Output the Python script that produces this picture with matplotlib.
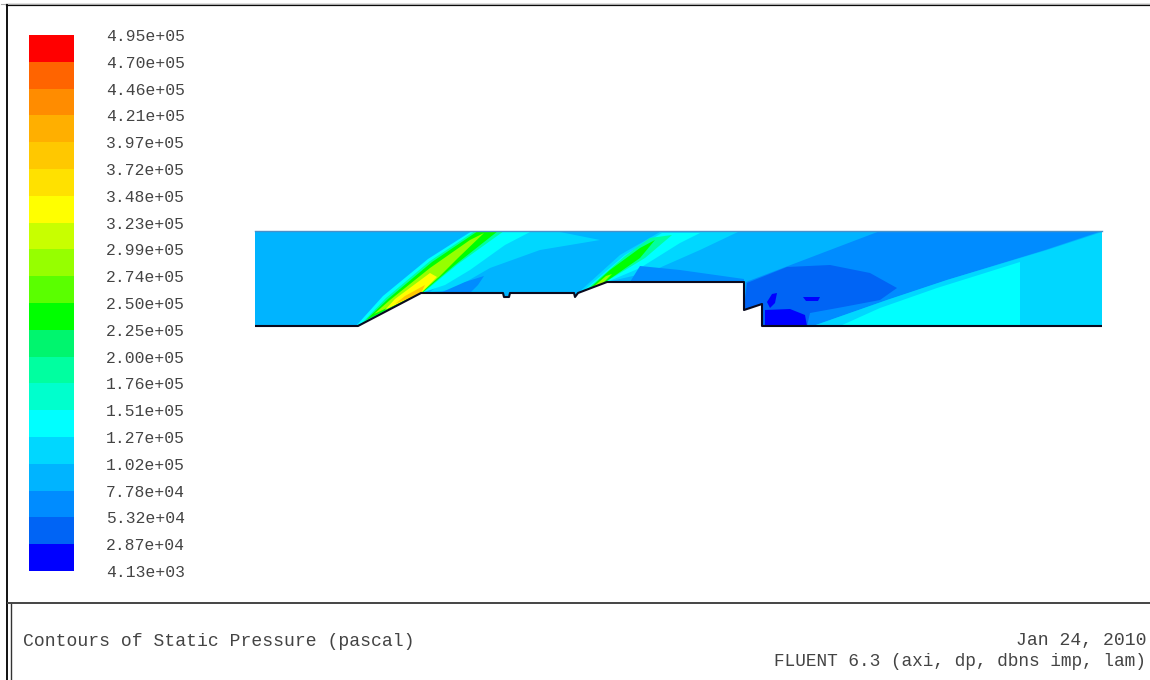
import matplotlib
matplotlib.use("Agg")
import matplotlib.pyplot as plt
import numpy as np
from matplotlib.colors import ListedColormap, BoundaryNorm

levels = [4.13e3, 2.87e4, 5.32e4, 7.78e4, 1.02e5, 1.27e5, 1.51e5, 1.76e5, 2.00e5, 2.25e5, 2.50e5,
          2.74e5, 2.99e5, 3.23e5, 3.48e5, 3.72e5, 3.97e5, 4.21e5, 4.46e5, 4.70e5, 4.95e5]
band_colors = ["#0000ff", "#0064f5", "#008cff", "#00b4ff", "#00d7ff", "#00ffff", "#00ffcd", "#00ffa0",
               "#00f56e", "#00ff00", "#5aff00", "#96ff00", "#c8ff00", "#ffff00", "#ffe100", "#ffc800",
               "#ffaf00", "#ff8c00", "#ff6400", "#ff0000"]

# geometry and pressure patches, in image pixels
wall_x = [255, 358, 421, 503, 504, 509, 510, 574, 575, 578, 607, 744, 744, 762, 762, 1102]
wall_y = [326, 326, 293, 293, 297, 297, 293, 293, 297, 293, 282, 282, 310, 304, 326, 326]
domain_x = [255, 1102, 1102]
domain_y = [231, 231, 326]
base_p = 9.0e4

patches = [
    # right half
    (6.5e4, [(746, 282), (880, 231), (1102, 231), (1045, 250), (947, 280), (887, 300), (813, 326),
             (762, 326), (762, 304), (744, 310)]),
    (4.0e4, [(747, 283), (787, 267), (830, 265), (870, 273), (897, 288), (880, 300), (843, 307), (810, 313),
             (807, 326), (763, 326), (762, 304), (744, 310)]),
    (1.15e5, [(813, 326), (887, 300), (947, 280), (1047, 250), (1102, 232), (1102, 326)]),
    (1.40e5, [(840, 326), (880, 308), (937, 288), (985, 273), (1020, 262), (1020, 326)]),
    # vortex core and small low pressure spots
    (1.5e4, [(765, 310), (790, 309), (805, 315), (807, 326), (765, 326)]),
    (1.5e4, [(767, 302), (772, 294), (777, 293), (775, 303), (770, 308)]),
    (1.5e4, [(803, 297), (820, 297), (818, 301), (806, 301)]),
    # first shock
    (1.15e5, [(430, 292), (497, 240), (520, 232), (560, 232), (600, 240), (540, 250), (490, 268), (452, 290)]),
    (6.5e4, [(440, 293), (465, 282), (484, 276), (478, 285), (470, 293)]),
    (1.40e5, [(356, 326), (383, 296), (428, 259), (472, 231), (530, 232), (505, 245), (470, 270), (445, 285),
              (421, 293)]),
    (1.90e5, [(362, 323), (386, 298), (430, 261), (475, 231), (504, 231), (458, 264), (424, 292)]),
    (2.40e5, [(366, 320), (388, 299), (432, 262), (478, 231), (498, 231), (455, 265), (423, 292)]),
    (2.85e5, [(374, 314), (390, 300), (430, 268), (470, 240), (484, 233), (458, 258), (440, 276), (422, 292)]),
    (3.35e5, [(385, 310), (395, 299), (430, 273), (437, 277), (422, 292)]),
    (3.85e5, [(395, 304), (405, 296), (425, 285), (421, 293)]),
    # second shock
    (1.15e5, [(578, 293), (620, 255), (660, 232), (740, 231), (700, 250), (650, 272), (607, 282)]),
    (1.40e5, [(582, 292), (625, 255), (662, 233), (700, 233), (680, 243), (640, 268), (607, 282)]),
    (1.90e5, [(586, 290), (625, 256), (650, 238), (672, 235), (645, 258), (607, 281)]),
    (2.40e5, [(590, 288), (610, 270), (640, 248), (655, 240), (640, 258), (620, 272), (604, 283)]),
    (2.85e5, [(592, 288), (606, 276), (612, 274), (602, 284)]),
    (6.5e4, [(640, 266), (680, 270), (744, 279), (744, 282), (630, 282)]),
]

plt.rcParams['font.family'] = ['Liberation Mono', 'DejaVu Sans']
fig = plt.figure(figsize=(11.5, 6.8), dpi=100)

cmap = ListedColormap(band_colors)
norm = BoundaryNorm(levels, cmap.N)

ax = fig.add_axes([0, 0, 1, 1])
ax.set_xlim(0, 1150)
ax.set_ylim(680, 0)
ax.axis("off")

# flow domain
ax.fill(wall_x + domain_x[::-1], wall_y + domain_y[::-1], color=cmap(norm(base_p)), lw=0)
clip_poly = ax.fill(wall_x + domain_x[::-1], wall_y + domain_y[::-1], facecolor="none", lw=0)[0]
for p, pts in patches:
    xs, ys = zip(*pts)
    poly = ax.fill(xs, ys, color=cmap(norm(p)), lw=0)[0]
    poly.set_clip_path(clip_poly)
ax.plot(wall_x, wall_y, color="#0a0a1e", lw=1.5, solid_capstyle="butt")
ax.plot(domain_x[:2], domain_y[:2], color="#4a90c8", lw=1)

# frame and footer box
ax.plot([7, 1150], [5, 5], color="black", lw=1.6)
ax.plot([1, 1150], [4, 4], color="#aaaaaa", lw=0.8)
ax.plot([7, 7], [5, 680], color="#111111", lw=1.4)
ax.plot([10.5, 10.5], [603, 680], color="#333333", lw=1)
ax.plot([8, 1150], [603, 603], color="#444444", lw=1.4)

ax.text(23, 641, "Contours of Static Pressure (pascal)", fontsize=13.1, color="#444444", va="center")
ax.text(1146, 640, "Jan 24, 2010", fontsize=13.1, color="#444444", va="center", ha="right")
ax.text(1146, 661, "FLUENT 6.3 (axi, dp, dbns imp, lam)", fontsize=12.8, color="#444444", va="center", ha="right")

# colour bar, equal height bands
cax = fig.add_axes([29 / 1150, 1 - 571 / 680, 45 / 1150, 536 / 680])
band = np.arange(21)
cax.pcolormesh([0, 1], band, np.arange(20).reshape(-1, 1), cmap=cmap, vmin=-0.5, vmax=19.5)
cax.set_xticks([])
cax.set_yticks(band)
cax.set_yticklabels(["%.2e" % v for v in levels], fontsize=11.8, color="#444444")
cax.yaxis.tick_right()
cax.tick_params(axis="y", length=0, pad=23)
for s in cax.spines.values():
    s.set_visible(False)

fig.savefig("out.png", dpi=100)
